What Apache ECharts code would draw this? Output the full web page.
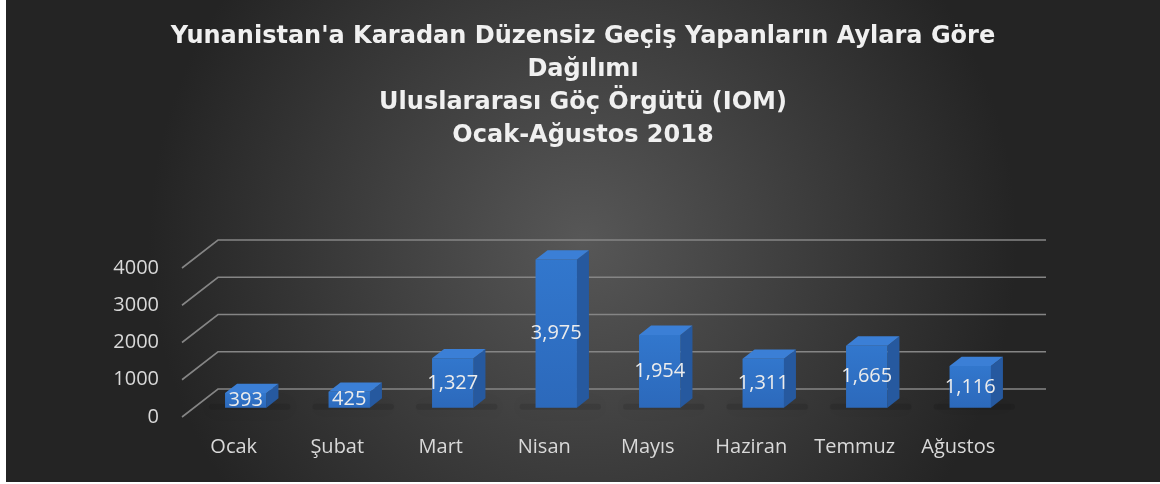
<!DOCTYPE html>
<html>
<head>
<meta charset="utf-8">
<script src="https://cdn.jsdelivr.net/npm/echarts@6/dist/echarts.min.js"></script>
<style>
  html, body { margin: 0; padding: 0; background: #ffffff; }
  #chart { position: absolute; left: 6px; top: 0; width: 1154px; height: 482px; }
</style>
</head>
<body>
<div id="chart"></div>
<script>
// aylar ve geçiş sayıları
var months = ["Ocak", "Şubat", "Mart", "Nisan", "Mayıs", "Haziran", "Temmuz", "Ağustos"];
var crossings = [393, 425, 1327, 3975, 1954, 1311, 1665, 1116];
var yTicks = [0, 1000, 2000, 3000, 4000];

var titleText = "Yunanistan'a Karadan Düzensiz Geçiş Yapanların Aylara Göre\nDağılımı\nUluslararası Göç Örgütü (IOM)\nOcak-Ağustos 2018";

var labelFont = '"Open Sans", sans-serif';
// 3d wall depth
var DX = 36, DY = -28;

var chart = echarts.init(document.getElementById("chart"));

function gridRender(params, api) {
  var cs = params.coordSys;
  var p = api.coord([0, api.value(1)]);
  var y = p[1];
  return {
    type: "polyline",
    shape: {
      points: [
        [cs.x, y],
        [cs.x + DX, y + DY],
        [cs.x + cs.width + DX, y + DY]
      ]
    },
    style: { stroke: "#858585", lineWidth: 1.6, fill: null }
  };
}

function barRender(params, api) {
  var i = api.value(0);
  var v = api.value(1);
  var base = api.coord([i, 0]);
  var top = api.coord([i, v]);
  var bw = api.size([1, 0])[0] * 0.4;
  var ddx = DX / 3, ddy = DY / 3;
  var fx = base[0] - bw / 2 + ddx;
  var fb = base[1] + ddy;
  var ft = top[1] + ddy;
  return {
    type: "group",
    children: [
      {
        type: "rect",
        shape: { x: fx - 16, y: fb - 4, width: bw + 40, height: 6, r: 3 },
        style: { fill: "rgba(0,0,0,0.1)", shadowBlur: 16, shadowColor: "rgba(0,0,0,0.6)" }
      },
      {
        type: "polygon",
        shape: { points: [[fx + bw, ft], [fx + bw + ddx, ft + ddy], [fx + bw + ddx, fb + ddy], [fx + bw, fb]] },
        style: { fill: "#26599f" }
      },
      {
        type: "rect",
        shape: { x: fx, y: ft, width: bw, height: fb - ft },
        style: {
          fill: new echarts.graphic.LinearGradient(0, 0, 0, 1, [
            { offset: 0, color: "#3277cd" },
            { offset: 1, color: "#2c69bb" }
          ])
        }
      },
      {
        type: "polygon",
        shape: { points: [[fx, ft], [fx + ddx, ft + ddy], [fx + bw + ddx, ft + ddy], [fx + bw, ft]] },
        style: { fill: "#3b7fd6" }
      },
      {
        type: "text",
        style: {
          text: v.toLocaleString("en-US"),
          x: fx + bw / 2,
          y: (ft + fb) / 2,
          align: "center",
          verticalAlign: "middle",
          fill: "#ececec",
          fontSize: 20,
          fontFamily: labelFont
        }
      }
    ]
  };
}

var option = {
  backgroundColor: new echarts.graphic.RadialGradient(0.5, 0.5, 0.9, [
    { offset: 0, color: "#575757" },
    { offset: 1, color: "#242424" }
  ]),
  title: {
    text: titleText,
    left: "center",
    top: 15,
    textStyle: {
      color: "#f0f0f0",
      fontSize: 24,
      fontWeight: "bold",
      fontFamily: "DejaVu Sans",
      lineHeight: 33
    }
  },
  grid: { left: 176, right: 150, top: 268, bottom: 65 },
  xAxis: {
    type: "category",
    data: months,
    axisLine: { show: false },
    axisTick: { show: false },
    axisLabel: { color: "#d9d9d9", fontSize: 20, fontFamily: labelFont, margin: 20, interval: 0 }
  },
  yAxis: {
    type: "value",
    min: 0,
    max: 4000,
    interval: 1000,
    axisLine: { show: false },
    axisTick: { show: false },
    splitLine: { show: false },
    axisLabel: {
      color: "#d9d9d9",
      fontSize: 20,
      fontFamily: labelFont,
      margin: 23,
      formatter: function (v) { return String(v); }
    }
  },
  series: [
    {
      type: "custom",
      renderItem: gridRender,
      data: yTicks.map(function (t) { return [0, t]; }),
      z: 1,
      silent: true
    },
    {
      type: "custom",
      renderItem: barRender,
      data: crossings.map(function (v, i) { return [i, v]; }),
      z: 2
    }
  ]
};

chart.setOption(option);
</script>
</body>
</html>
